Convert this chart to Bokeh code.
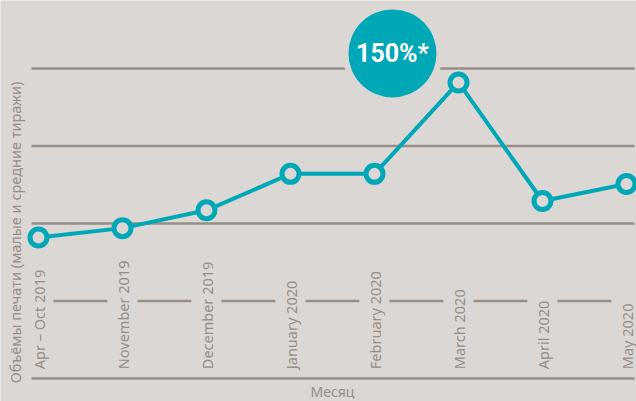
from math import pi
from bokeh.plotting import figure
from bokeh.models import Range1d
from bokeh.core.properties import value
from bokeh.embed import file_html
from bokeh.resources import INLINE

# ---- data ----
months = ["Apr – Oct 2019", "November 2019", "December 2019", "January 2020",
          "February 2020", "March 2020", "April 2020", "May 2020"]
volume = [1.82, 1.94, 2.17, 2.64, 2.64, 3.82, 2.29, 2.51]
full_grid_levels = [0, 2, 3, 4]
broken_grid_level = 1
peak_label = "150%*"
x_title = "Месяц"
y_title = "Объёмы печати (малые и средние тиражи)"

# ---- style ----
BG = "#dbd7d4"
TEAL = "#00a7b6"
GRID = "#978e87"
TEXT = "#978e87"
FONT = value("Noto Sans")

idx = list(range(len(months)))

p = figure(width=636, height=401,
           x_range=Range1d(-0.4524, 7.119), y_range=Range1d(-0.297, 4.877),
           output_backend="svg", toolbar_location=None, min_border=0,
           x_axis_type=None, y_axis_type=None)
p.grid.visible = False
p.outline_line_color = None
p.background_fill_color = BG
p.border_fill_color = BG

# full grid lines
n = len(full_grid_levels)
p.segment(x0=[-0.083] * n, y0=full_grid_levels, x1=[7.095] * n, y1=full_grid_levels,
          line_color=GRID, line_width=2.5)
# broken grid line between the labels
p.segment(x0=[i + 0.18 for i in idx[:-1]], y0=[broken_grid_level] * (len(idx) - 1),
          x1=[i + 0.82 for i in idx[:-1]], y1=[broken_grid_level] * (len(idx) - 1),
          line_color=GRID, line_width=2.5)

# series
p.line(idx, volume, line_color=TEAL, line_width=4)
p.scatter(idx, volume, size=17, fill_color=BG, line_color=TEAL, line_width=5)

# month labels
p.text(x=idx, y=[0.12] * len(idx), text=months, angle=pi / 2,
       text_align="left", text_baseline="middle", text_font_size="14.5px",
       text_color=TEXT, text_font=FONT)

# peak badge
bx, by = 4.214, 4.194
p.scatter(x=[bx], y=[by], size=100, fill_color=BG, line_color=None)
p.scatter(x=[bx], y=[by], size=88, fill_color=TEAL, line_color=None)
p.text(x=[bx], y=[by], text=[peak_label], text_align="center", text_baseline="middle",
       text_font_size="25px", text_font_style="bold", text_color="white",
       text_font=value("Roboto"))

# titles
p.text(x=[3.5], y=[-0.165], text=[x_title], text_align="center", text_baseline="middle",
       text_font_size="14px", text_color=TEXT, text_font=FONT)
p.text(x=[-0.274], y=[1.884], text=[y_title], angle=pi / 2, text_align="center",
       text_baseline="middle", text_font_size="14.5px", text_color=TEXT, text_font=FONT)

open("out.html", "w").write(file_html(p, INLINE))
